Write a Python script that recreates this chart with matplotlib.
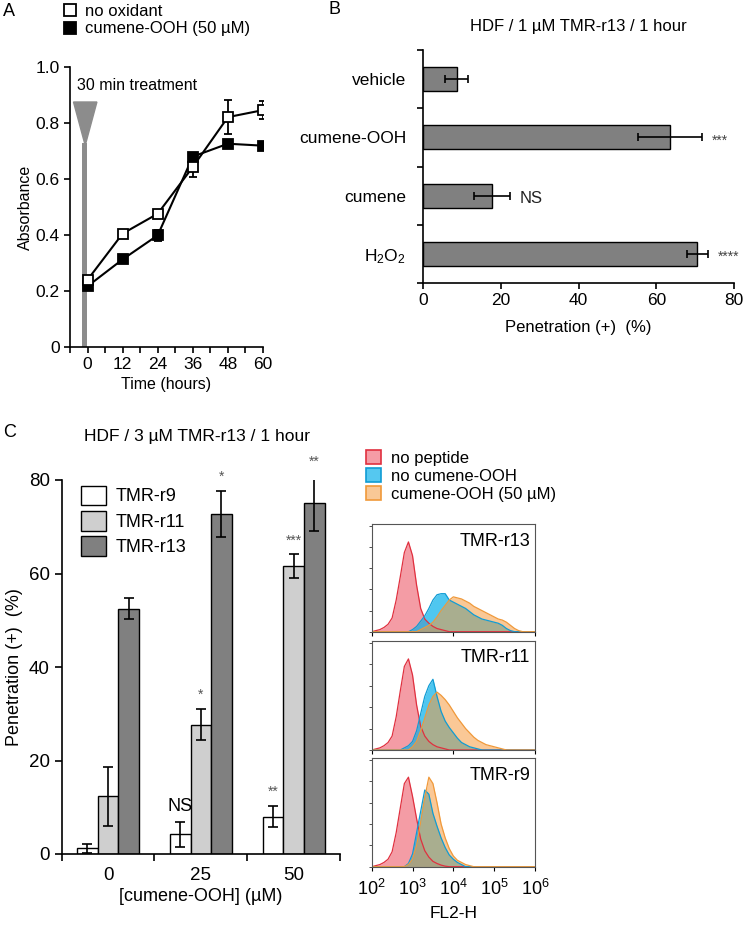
import numpy as np
import matplotlib
matplotlib.use("Agg")
import matplotlib.pyplot as plt
from matplotlib.lines import Line2D
from matplotlib.patches import Patch, Polygon
import matplotlib.ticker as mticker

plt.rcParams["font.family"] = ["Liberation Sans", "DejaVu Sans"]
plt.rcParams["mathtext.fontset"] = "custom"
plt.rcParams["mathtext.rm"] = "Liberation Sans"
plt.rcParams["mathtext.it"] = "Liberation Sans:italic"
plt.rcParams["axes.linewidth"] = 1.2

# ---- Panel A: absorbance over time
time_h = [0, 12, 24, 36, 48, 60]
abs_none = [0.240, 0.405, 0.476, 0.643, 0.821, 0.846]
abs_none_err = [0.01, 0.01, 0.01, 0.035, 0.06, 0.033]
abs_cum = [0.217, 0.313, 0.399, 0.680, 0.726, 0.719]
abs_cum_err = [0.01, 0.01, 0.02, 0.01, 0.01, 0.01]

# ---- Panel B: penetration, HDF / 1 uM TMR-r13
b_labels = ["vehicle", "cumene-OOH", "cumene", "H$_2$O$_2$"]
b_values = [8.7, 63.5, 17.7, 70.5]
b_err = [2.9, 8.3, 4.6, 2.7]
b_marks = ["", "***", "NS", "****"]

# ---- Panel C: penetration vs cumene-OOH
c_doses = ["0", "25", "50"]
c_r9 = [1.2, 4.2, 8.0]
c_r9_err = [1.0, 2.6, 2.3]
c_r11 = [12.3, 27.7, 61.6]
c_r11_err = [6.3, 3.4, 2.5]
c_r13 = [52.5, 72.7, 75.0]
c_r13_err = [2.2, 4.9, 5.9]
c_r9_marks = ["", "NS", "**"]
c_r11_marks = ["", "*", "***"]
c_r13_marks = ["", "*", "**"]

# ---- Panel C: flow histograms (log10 FL2-H bins, relative counts)
fl2_log = [2.0, 2.1, 2.2, 2.3, 2.4, 2.5, 2.6, 2.7, 2.8, 2.9,
           3.0, 3.1, 3.2, 3.3, 3.4, 3.5, 3.6, 3.7, 3.8, 3.9,
           4.0, 4.1, 4.2, 4.3, 4.4, 4.5, 4.6, 4.7, 4.8, 4.9,
           5.0, 5.1, 5.2, 5.3, 5.4, 5.5, 5.6, 5.7, 5.8, 5.9, 6.0]
r13_none = [0.00, 0.01, 0.02, 0.04, 0.07, 0.13, 0.30, 0.52, 0.75, 0.85,
            0.72, 0.44, 0.22, 0.12, 0.08, 0.05, 0.03, 0.02, 0.01, 0.00,
            0, 0, 0, 0, 0, 0, 0, 0, 0, 0, 0, 0, 0, 0, 0, 0, 0, 0, 0, 0, 0]
r13_ctrl = [0, 0, 0, 0, 0, 0, 0, 0, 0, 0,
            0.02, 0.05, 0.10, 0.15, 0.22, 0.30, 0.35, 0.36, 0.36, 0.30,
            0.28, 0.26, 0.24, 0.22, 0.19, 0.16, 0.14, 0.12, 0.11, 0.10,
            0.09, 0.08, 0.06, 0.03, 0.01, 0, 0, 0, 0, 0, 0]
r13_cum = [0, 0, 0, 0, 0, 0, 0, 0, 0, 0, 0, 0,
           0.02, 0.04, 0.06, 0.09, 0.14, 0.20, 0.25, 0.30,
           0.33, 0.32, 0.31, 0.29, 0.27, 0.24, 0.22, 0.20, 0.18, 0.16,
           0.14, 0.12, 0.11, 0.09, 0.06, 0.03, 0.01, 0, 0, 0, 0]
r11_none = [0.00, 0.01, 0.02, 0.04, 0.07, 0.13, 0.31, 0.55, 0.78, 0.85,
            0.70, 0.42, 0.22, 0.13, 0.08, 0.05, 0.03, 0.02, 0.01, 0.00,
            0, 0, 0, 0, 0, 0, 0, 0, 0, 0, 0, 0, 0, 0, 0, 0, 0, 0, 0, 0, 0]
r11_ctrl = [0, 0, 0, 0, 0, 0, 0, 0,
            0.02, 0.04, 0.08, 0.18, 0.34, 0.50, 0.60, 0.66, 0.50, 0.36, 0.27, 0.21,
            0.16, 0.11, 0.07, 0.05, 0.03, 0.02, 0.01,
            0, 0, 0, 0, 0, 0, 0, 0, 0, 0, 0, 0, 0, 0]
r11_cum = [0, 0, 0, 0, 0, 0, 0, 0, 0, 0,
           0.03, 0.08, 0.18, 0.30, 0.42, 0.50, 0.54, 0.51, 0.47, 0.42,
           0.36, 0.30, 0.25, 0.20, 0.16, 0.12, 0.09, 0.07, 0.05, 0.04,
           0.03, 0.02, 0.01, 0, 0, 0, 0, 0, 0, 0, 0]
r9_none = [0.00, 0.01, 0.02, 0.04, 0.07, 0.14, 0.32, 0.55, 0.78, 0.84,
           0.66, 0.45, 0.26, 0.15, 0.09, 0.05, 0.03, 0.015, 0.005, 0.00,
           0, 0, 0, 0, 0, 0, 0, 0, 0, 0, 0, 0, 0, 0, 0, 0, 0, 0, 0, 0, 0]
r9_ctrl = [0, 0, 0, 0, 0, 0, 0, 0, 0,
           0.03, 0.12, 0.32, 0.52, 0.72, 0.68, 0.50, 0.38, 0.27, 0.18, 0.11,
           0.07, 0.04, 0.02,
           0, 0, 0, 0, 0, 0, 0, 0, 0, 0, 0, 0, 0, 0, 0, 0, 0, 0]
r9_cum = [0, 0, 0, 0, 0, 0, 0, 0, 0,
          0.02, 0.07, 0.20, 0.42, 0.65, 0.84, 0.78, 0.60, 0.40, 0.27, 0.17,
          0.10, 0.06, 0.04, 0.02, 0.01,
          0, 0, 0, 0, 0, 0, 0, 0, 0, 0, 0, 0, 0, 0, 0, 0]

W, H = 745, 926
fig = plt.figure(figsize=(7.45, 9.26), dpi=100)


def box(l, t, r, b):
    return [l / W, 1 - b / H, (r - l) / W, (b - t) / H]


# ================= Panel A
axA = fig.add_axes(box(70, 67, 263, 347))
axA.bar(-1.0, 0.73, width=1.7, color="#8c8c8c", zorder=1)
axA.add_patch(Polygon([[-4.8, 0.875], [3.2, 0.875], [-0.8, 0.72]],
                      closed=True, color="#8c8c8c", zorder=1))
axA.errorbar(time_h, abs_none, yerr=abs_none_err, color="black", lw=1.5,
             marker="s", ms=7, mfc="white", mec="black", mew=1.3,
             capsize=3, elinewidth=1.3, zorder=3)
axA.errorbar(time_h, abs_cum, yerr=abs_cum_err, color="black", lw=1.5,
             marker="s", ms=7, mfc="black", mec="black", mew=1.3,
             capsize=3, elinewidth=1.3, zorder=2)
axA.text(-3.5, 0.935, "30 min treatment", fontsize=11.5, va="center")
axA.set_xlim(-6, 60)
axA.set_ylim(0, 1.0)
axA.set_xticks([0, 12, 24, 36, 48, 60])
axA.xaxis.set_minor_locator(mticker.FixedLocator([-6, 6, 18, 30, 42, 54]))
axA.set_yticks([0, 0.2, 0.4, 0.6, 0.8, 1.0])
axA.set_yticklabels(["0", "0.2", "0.4", "0.6", "0.8", "1.0"])
axA.tick_params(labelsize=12.5, length=4, width=1.2)
axA.tick_params(which="minor", length=4, width=1.2)
axA.spines[["top", "right"]].set_visible(False)
axA.set_xlabel("Time (hours)", fontsize=11.5, labelpad=3)
axA.set_ylabel("Absorbance", fontsize=11.5, labelpad=2)

legA = [Line2D([], [], ls="none", marker="s", ms=9, mfc="white", mec="black", mew=1.3),
        Line2D([], [], ls="none", marker="s", ms=9, mfc="black", mec="black", mew=1.3)]
fig.legend(legA, ["no oxidant", "cumene-OOH (50 µM)"], loc="upper left",
           bbox_to_anchor=(62 / W, 1 - 4 / H), frameon=False, fontsize=12,
           handlelength=1.0, handletextpad=0.4, labelspacing=0.15,
           borderpad=0, borderaxespad=0)

# ================= Panel B
axB = fig.add_axes(box(422.7, 50, 734.3, 283))
yb = np.arange(len(b_labels))
axB.barh(yb, b_values, height=0.41, color="#808080", edgecolor="black", lw=1.0,
         xerr=b_err, error_kw=dict(ecolor="black", capsize=3, elinewidth=1.2, capthick=1.2))
for i, m in enumerate(b_marks):
    if m:
        axB.text(b_values[i] + b_err[i] + 2.5, yb[i] + 0.05, m, fontsize=12 if m == "NS" else 10,
                 va="center", color="#222222" if m == "NS" else "#444444", clip_on=False)
axB.set_ylim(3.5, -0.5)
axB.set_xlim(0, 80)
axB.set_xticks([0, 20, 40, 60, 80])
axB.set_yticks([-0.5, 0.5, 1.5, 2.5, 3.5])
axB.set_yticklabels([])
axB.yaxis.set_minor_locator(mticker.FixedLocator(yb))
axB.set_yticklabels(b_labels, minor=True)
axB.tick_params(which="both", labelsize=12.5, length=4, width=1.2)
axB.tick_params(axis="y", which="minor", length=0, pad=12)
axB.spines[["top", "right"]].set_visible(False)
axB.set_xlabel("Penetration (+)  (%)", fontsize=12, labelpad=8)
axB.set_title("HDF / 1 µM TMR-r13 / 1 hour", fontsize=12, pad=14)

# ================= Panel C (bars)
axC = fig.add_axes(box(61.7, 480, 340, 854))
xc = np.arange(len(c_doses))
bw = 0.222
ek = dict(ecolor="black", capsize=3.5, elinewidth=1.2, capthick=1.2)
axC.bar(xc - bw, c_r9, bw, yerr=c_r9_err, color="white", edgecolor="black", lw=1.0, error_kw=ek, label="TMR-r9")
axC.bar(xc, c_r11, bw, yerr=c_r11_err, color="#cfcfcf", edgecolor="black", lw=1.0, error_kw=ek, label="TMR-r11")
axC.bar(xc + bw, c_r13, bw, yerr=c_r13_err, color="#808080", edgecolor="black", lw=1.0, error_kw=ek, label="TMR-r13")
for off, vals, errs, marks in [(-bw, c_r9, c_r9_err, c_r9_marks),
                               (0, c_r11, c_r11_err, c_r11_marks),
                               (bw, c_r13, c_r13_err, c_r13_marks)]:
    for i, m in enumerate(marks):
        if not m:
            continue
        if m == "NS":
            axC.text(xc[i] + off, vals[i] + errs[i] + 1.5, m, fontsize=13,
                     ha="center", va="bottom", clip_on=False)
        else:
            axC.text(xc[i] + off, vals[i] + errs[i] + 1.5, m, fontsize=10, color="#555555",
                     ha="center", va="bottom", clip_on=False)
axC.set_xlim(-0.5, 2.5)
axC.set_ylim(0, 80)
axC.set_xticks([-0.5, 0.5, 1.5, 2.5])
axC.set_xticklabels([])
axC.xaxis.set_minor_locator(mticker.FixedLocator(xc))
axC.set_xticklabels(c_doses, minor=True)
axC.set_yticks([0, 20, 40, 60, 80])
axC.tick_params(which="both", labelsize=13.5, length=5, width=1.2)
axC.tick_params(axis="x", which="minor", length=0, pad=9)
axC.spines[["top", "right"]].set_visible(False)
axC.set_xlabel("[cumene-OOH] (µM)", fontsize=13, labelpad=3)
axC.set_ylabel("Penetration (+)  (%)", fontsize=13, labelpad=4)
axC.legend(loc="upper left", bbox_to_anchor=(0.07, 0.985), frameon=False, fontsize=13,
           handlelength=1.4, handleheight=1.3, handletextpad=0.5, labelspacing=0.3,
           borderpad=0, borderaxespad=0)
fig.text(197 / W, 1 - 437 / H, "HDF / 3 µM TMR-r13 / 1 hour", fontsize=12.5,
         ha="center", va="center")

# ================= Panel C (histograms)
hist_boxes = [(524, 631.7), (640.7, 750), (758, 866.7)]
hist_sets = [("TMR-r13", r13_none, r13_ctrl, r13_cum),
             ("TMR-r11", r11_none, r11_ctrl, r11_cum),
             ("TMR-r9", r9_none, r9_ctrl, r9_cum)]
red_f, red_e = "#ee5a6a", "#e0303f"
blue_f, blue_e = "#05b0ea", "#109cd4"
org_f, org_e = "#f69a3d", "#f0993a"
for k, ((t, b), (name, y_none, y_ctrl, y_cum)) in enumerate(zip(hist_boxes, hist_sets)):
    ax = fig.add_axes(box(371.7, t, 535, b))
    xs = np.power(10.0, fl2_log)
    ax.fill_between(xs, y_none, color=red_f, alpha=0.6, lw=0)
    ax.plot(xs, y_none, color=red_e, lw=0.9)
    ax.fill_between(xs, y_ctrl, color=blue_f, alpha=0.7, lw=0)
    ax.plot(xs, y_ctrl, color=blue_e, lw=0.9)
    ax.fill_between(xs, y_cum, color=org_f, alpha=0.54, lw=0)
    ax.plot(xs, y_cum, color=org_e, lw=0.9)
    ax.set_xscale("log")
    ax.set_xlim(1e2, 1e6)
    ax.set_ylim(0, 1.02)
    ax.set_yticks([0, 0.2, 0.4, 0.6, 0.8, 1.0])
    ax.set_yticklabels([])
    ax.tick_params(axis="y", length=2, width=0.6, colors="#333333")
    ax.tick_params(axis="x", which="major", length=3, width=0.8)
    ax.tick_params(axis="x", which="minor", length=1.5, width=0.6)
    for s in ax.spines.values():
        s.set_linewidth(0.8)
        s.set_color("#555555")
    ax.text(0.97, 0.92, name, transform=ax.transAxes, ha="right", va="top", fontsize=13)
    if k < 2:
        ax.set_xticklabels([])
    else:
        ax.set_xticks([1e2, 1e3, 1e4, 1e5, 1e6])
        ax.set_xticklabels(["$10^2$", "$10^3$", "$10^4$", "$10^5$", "$10^6$"], fontsize=13)
        ax.tick_params(axis="x", which="major", pad=6)
        ax.set_xlabel("FL2-H", fontsize=12.5, labelpad=5)

legH = [Patch(facecolor="#f59ca6", edgecolor=red_e, lw=1.2),
        Patch(facecolor="#55c8f0", edgecolor=blue_e, lw=1.2),
        Patch(facecolor="#f9c896", edgecolor=org_e, lw=1.2)]
fig.legend(legH, ["no peptide", "no cumene-OOH", "cumene-OOH (50 µM)"], loc="upper left",
           bbox_to_anchor=(366 / W, 1 - 450 / H), frameon=False, fontsize=12,
           handlelength=0.9, handleheight=0.9, handletextpad=0.6, labelspacing=0.15,
           borderpad=0, borderaxespad=0)

# panel letters
fig.text(3 / W, 1 - 12 / H, "A", fontsize=13, va="center")
fig.text(329 / W, 1 - 9 / H, "B", fontsize=13, va="center")
fig.text(3 / W, 1 - 433 / H, "C", fontsize=13, va="center")

fig.savefig("out.png", dpi=100)
